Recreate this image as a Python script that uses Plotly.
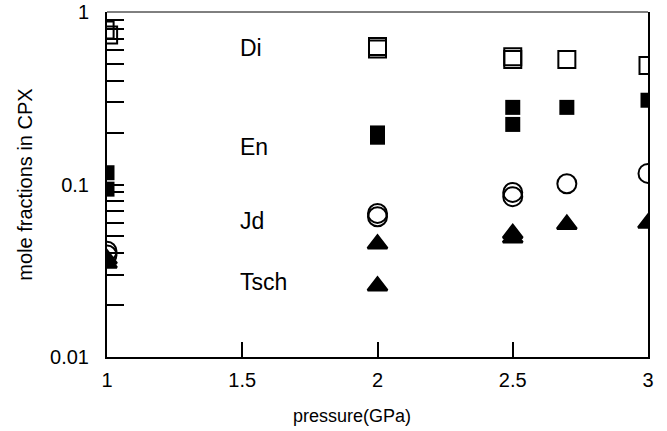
import math
import plotly.graph_objects as go

# ---- data ----
di_x = [0.993, 1.006, 2, 2, 2.5, 2.5, 2.7, 3]
di_y = [0.787, 0.736, 0.63, 0.61, 0.55, 0.53, 0.53, 0.49]

en_x = [1, 1, 2, 2, 2.5, 2.5, 2.7, 3]
en_y = [0.117, 0.094, 0.199, 0.188, 0.28, 0.223, 0.28, 0.308]

jd_x = [1, 1, 2, 2, 2.5, 2.5, 2.7, 3]
jd_y = [0.041, 0.039, 0.068, 0.065, 0.090, 0.085, 0.101, 0.116]

ts_x = [1, 1, 2, 2, 2.5, 2.5, 2.7, 3]
ts_y = [0.037, 0.035, 0.0452, 0.0258, 0.052, 0.049, 0.0587, 0.0596]

label_names = ["Di", "En", "Jd", "Tsch"]
label_y = [0.62, 0.165, 0.0613, 0.0272]
label_x = 1.485

x_ticks = [1, 1.5, 2, 2.5, 3]
x_ticktext = ["1", "1.5", "2", "2.5", "3"]
y_ticks = [0.01, 0.1, 1]
y_ticktext = ["0.01", "0.1", "1"]
y_minor = [m * d for d in (0.01, 0.1) for m in range(2, 10)]

FONT = "Liberation Sans, Arial, Helvetica, sans-serif"

fig = go.Figure()
fig.add_trace(go.Scatter(x=di_x, y=di_y, mode="markers",
                         marker=dict(symbol="square-open", size=17, color="black",
                                     line=dict(width=2, color="black"))))
fig.add_trace(go.Scatter(x=en_x, y=en_y, mode="markers",
                         marker=dict(symbol="square", size=15, color="black")))
fig.add_trace(go.Scatter(x=jd_x, y=jd_y, mode="markers",
                         marker=dict(symbol="circle-open", size=19, color="black",
                                     line=dict(width=2, color="black"))))
fig.add_trace(go.Scatter(x=ts_x, y=ts_y, mode="markers",
                         marker=dict(symbol="triangle-up", size=17, color="black",
                                     line=dict(width=2.5, color="black"))))

for name, yv in zip(label_names, label_y):
    fig.add_annotation(x=label_x, y=math.log10(yv), xref="x", yref="y",
                       text=name, showarrow=False, xanchor="left", yanchor="middle",
                       font=dict(size=23, color="black", family=FONT))

fig.add_annotation(x=0.453, y=-0.17, xref="paper", yref="paper",
                   text="pressure(GPa)", showarrow=False, xanchor="center", yanchor="middle",
                   font=dict(size=18, color="black", family=FONT))

# thin top frame line
fig.add_shape(type="line", xref="paper", yref="paper", x0=0, x1=1, y0=1, y1=1,
              line=dict(color="black", width=1))

fig.update_xaxes(range=[1, 3], tickmode="array", tickvals=x_ticks, ticktext=x_ticktext,
                 ticks="inside", ticklen=15, tickwidth=1.5, tickcolor="black",
                 showline=True, linewidth=2, linecolor="black", mirror=False,
                 showgrid=False, zeroline=False,
                 tickfont=dict(size=20, color="black", family=FONT),
                 ticklabelstandoff=4, ticklabeloverflow="allow")
fig.update_yaxes(type="log", range=[-2, 0], tickmode="array", tickvals=y_ticks,
                 ticktext=y_ticktext, ticks="inside", ticklen=17, tickwidth=1.5,
                 tickcolor="black", showline=True, linewidth=2, linecolor="black",
                 mirror=True, showgrid=False, zeroline=False,
                 minor=dict(tickmode="array", tickvals=y_minor, ticks="inside",
                            ticklen=17, tickwidth=1.5, tickcolor="black", showgrid=False),
                 tickfont=dict(size=20, color="black", family=FONT),
                 ticklabelstandoff=12, ticklabeloverflow="allow",
                 title=dict(text="mole fractions in CPX", standoff=12,
                            font=dict(size=20, color="black", family=FONT)))

fig.update_layout(width=667, height=431, showlegend=False,
                  paper_bgcolor="white", plot_bgcolor="white",
                  margin=dict(l=107, r=19, t=12, b=74, autoexpand=False),
                  font=dict(family=FONT, color="black"))

# remove the browser's default 8px body margin so the figure fills the window
fig.write_html("out.html", config={"displayModeBar": False},
               post_script="document.body.style.margin='0';")
